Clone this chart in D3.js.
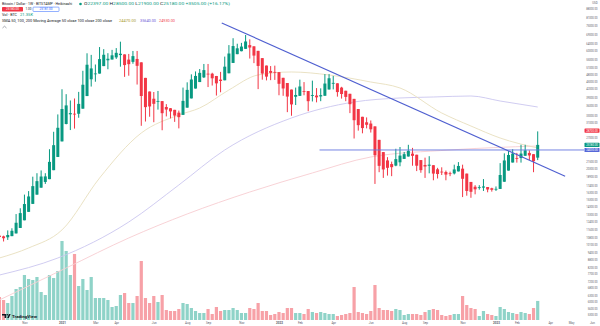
<!DOCTYPE html>
<html><head><meta charset="utf-8">
<script src="https://cdn.jsdelivr.net/npm/d3@7/dist/d3.min.js"></script>
<style>
html,body{margin:0;padding:0;background:#fff;}
svg{display:block;font-family:Roboto,"Liberation Sans",Arial,sans-serif;}
</style>
</head><body>
<svg id="c" width="600" height="326"></svg>
<script>
// ---------- DATA (weekly Heikin-Ashi candles, BTC/USD) ----------
const firstWeek = "2020-09-21";
const lastWeek  = "2023-03-13";
const haOpen = [10950,10881,10788,10902,11176,11750,12608,13621,14655,15951,17003,17920,18388,19967,22541,25999,30498,33334,33518,33500,
35100,39410,45968,48374,48428,51870,54712,55097,56181,57384,57744,55053,53926,55388,53694,46560,41080,38452,37576,37625,
35650,35237,34731,33840,33157,35428,38564,42219,44810,46780,48390,48382,47378,45826,45538,48569,53397,57873,59474,60762,
62893,62196,59660,55805,52127,49613,49181,49078,46589,44419,41822,39161,39480,41270,41263,39431,39590,39270,39510,41855,
44127,44301,42588,41369,40234,38404,34990,32582,30978,30626,29838,26369,23572,21836,21118,20821,21460,22142,22633,23241,
23008,21904,20940,20795,20898,20124,19700,19637,19406,19378,19739,20244,19347,17923,17149,16950,17012,17106,16915,16795,
16810,17955,19890,21420,22335,22318,22784,23389,23120,22397];
const haHigh = [11180,10950,11490,11720,13350,14080,15960,16480,18810,19420,19920,19420,24200,28400,33300,41950,40100,37850,38540,40950,
49700,58350,57500,52640,61780,60600,58400,60200,61200,64900,57744,58000,59600,59600,53694,46560,41080,40900,41300,37625,
36600,35300,34731,34500,42600,44700,48100,49400,50500,52900,52900,48800,47400,49200,56600,62900,67000,63700,64200,69000,
66300,62196,59660,55805,52127,51900,52100,49078,46589,44419,41822,42600,45800,44800,41263,45400,42400,42300,48200,48200,
47400,44301,42900,41369,40234,38404,34990,32582,32400,31500,29838,26369,23572,22500,21600,24300,24700,23600,25200,24500,
23008,21904,22400,22700,20898,20400,20500,19900,19700,21000,21500,21000,19347,17923,17400,17400,18400,17106,17000,17200,
21300,23300,23800,24200,23400,25200,25200,23950,23120,28500];
const haLow = [10370,10380,10530,10902,11176,11750,12608,13621,14655,15951,17003,17600,18388,19967,22541,25999,30400,28850,29240,32300,
35100,39410,43000,44950,48428,51870,50400,55097,55400,51600,47000,47500,53000,43800,30000,31200,32600,31000,34800,28800,
32700,32100,31100,29300,33157,35428,38564,42219,44810,46500,42800,43400,39600,40800,45538,48569,53397,57873,59400,60762,
55600,53300,42000,45800,45500,45600,45700,39700,39500,34000,32900,36300,39480,39700,34300,37500,37200,37600,39510,41855,
41900,39200,38500,37600,33700,26700,28700,28000,29300,28200,17600,19600,18600,19000,18900,20700,20700,22142,22633,20800,
19800,19500,18600,19400,18200,18500,19100,18200,18900,19200,19739,15600,15800,15500,16000,16700,16500,16300,16400,16500,
16810,17955,19890,21420,21400,21400,22784,21900,19600,21900];
const haClose = [10812,10695,11017,11450,12325,13467,14635,15690,17247,18055,18837,18857,21547,25115,29457,34997,36170,33702,33400,36677,
43720,52527,50780,48482,55312,57555,55482,57265,58587,58105,52362,52800,56850,52000,39425,35600,35825,36700,37675,33675,
34825,34225,32950,32475,37700,41700,45875,47400,48750,50000,48375,46375,44275,45250,51600,58225,62350,61075,62050,65025,
61500,57125,51950,48450,47100,48750,48975,44100,42250,39225,36500,39800,43025,41250,37600,39750,38950,39750,44200,46400,
44475,40875,40150,39100,36575,31575,30175,29375,30275,29050,22900,20775,20100,20400,20525,22100,22825,23125,23850,22775,
20800,19975,20650,21000,19350,19275,19575,19175,19350,20100,20750,18450,16500,16375,16750,17075,17200,16725,16675,16825,
19100,21825,22950,23250,22300,23250,23950,22850,21675,25180];
const volumeBTC = [25760,22400,19040,26880,34720,36960,50400,45920,44800,48160,31360,28000,50400,47040,54880,88480,77280,50400,73920,38080,
45920,33600,48160,24640,24640,24640,22400,14560,15680,28000,30240,19040,19040,26880,66080,24640,19040,26880,20160,28000,
11200,10080,10080,12320,19040,17920,13440,10080,7840,7840,12320,6720,14560,10080,11200,11200,13440,11200,7840,7840,
13440,12320,19040,10080,10080,5600,6720,8960,7840,13440,13440,7840,7840,6720,12320,8960,7840,8960,7840,6720,
6720,4480,5600,6720,7840,36960,8960,7840,6720,10080,39200,13440,11200,11200,10080,12320,11200,5600,6720,6720,
6720,5600,8960,11200,12320,11200,5600,4480,5600,6720,6720,26880,16800,13440,12320,4480,10080,6720,5600,4480,
14560,12320,8960,7840,6720,8960,7840,6720,13440,21350];

// moving averages read at sample weeks (index of week)
const ma50Weeks  = [0,7,15,24,34,43,48,55,62,70,79,89,96,106,113,120,129];
const ma50       = [8920,9780,11540,18580,28080,33130,35310,41670,47820,49150,47820,44830,42440,33740,29940,26820,24470];
const ma100Weeks = [0,14,31,43,54,70,85,96,104,113,120,129];
const ma100      = [7630,8920,12410,17430,24030,32230,37320,38720,39070,39430,37660,35640];
const ma200Weeks = [0,16,31,45,60,75,89,108,129];
const ma200      = [6070,8140,10720,13360,16340,19460,22530,24030,24930];

// drawings
const trendDates  = ["2021-09-29","2023-04-28"];
const trendPrices = [77100, 18900];
const hLineStart  = "2022-03-12";
const hLinePrice  = 24030;

// axes
const priceTicks = [88000,81000,75000,69000,64000,60000,55000,51000,48000,45000,42000,39000,36000,33000,31000,27000,
21500,20300,18900,17400,16300,15300,14300,13300,12400,11600,10800,10100,9400,8800,8200,7700,7200,6800,6300,6000,5600,5300];
const timeTickDates  = ["2020-11-02","2021-01-04","2021-03-01","2021-04-05","2021-06-07","2021-08-02","2021-09-06","2021-11-01",
"2022-01-03","2022-02-07","2022-04-04","2022-06-06","2022-08-01","2022-09-05","2022-11-07","2023-01-02","2023-02-06",
"2023-04-03","2023-05-08","2023-06-12"];
const timeTickLabels = ["Nov","2021","Mar","Apr","Jun","Aug","Sep","Nov","2022","Feb","Apr","Jun","Aug","Sep","Nov","2023","Feb","Apr","May","Jun"];

// price tags (right scale)
const tagRealPrice = 28700;
const lastVolText = "21.35K";

// ---------- CHART ----------
const UP = "#089981", DOWN = "#f23645";
const VUP = "#8fd3c8", VDOWN = "#f7a1a7";
const plotR = 584;
const svg = d3.select("#c");
const dates = haOpen.map((_, i) => d3.utcDay.offset(new Date(Date.UTC(2020,8,21)), 7*i));

const x = d3.scaleUtc().domain([new Date(firstWeek+"T00:00:00Z"), new Date(lastWeek+"T00:00:00Z")]).range([-0.6, 537.7]);
const y = d3.scaleLog().domain([10000, 100000]).range([245.55, -5.45]);
const yv = d3.scaleLinear().domain([0, 100000]).range([320, 230.7]);
const toD = s => new Date(s+"T00:00:00Z");

svg.append("rect").attr("width",600).attr("height",326).attr("fill","#fff");
svg.append("defs").append("clipPath").attr("id","clip").append("rect")
  .attr("x",0).attr("y",0).attr("width",plotR).attr("height",321);
const plot = svg.append("g").attr("clip-path","url(#clip)");

const idx = d3.range(haOpen.length);
const isUp = i => haClose[i] >= haOpen[i];

// volume
plot.append("g").selectAll("rect").data(idx).join("rect")
  .attr("x", i => x(dates[i]) - 1.6).attr("width", 3.2)
  .attr("y", i => yv(volumeBTC[i])).attr("height", i => yv(0) - yv(volumeBTC[i]))
  .attr("fill", i => isUp(i) ? VUP : VDOWN);

// moving averages
function maLine(weeks, vals, color) {
  const line = d3.line().x(d => x(dates[d[0]])).y(d => y(d[1])).curve(d3.curveMonotoneX);
  plot.append("path").datum(weeks.map((w,k)=>[w, vals[k]]))
    .attr("d", line).attr("fill","none").attr("stroke", color).attr("stroke-width", 0.9);
}
maLine(ma200Weeks, ma200, "#f7cdd1");
maLine(ma100Weeks, ma100, "#cbc6ef");
maLine(ma50Weeks, ma50, "#e8dfbd");

// candles
const cg = plot.append("g");
cg.selectAll("rect.w").data(idx).join("rect").attr("class","w")
  .attr("x", i => x(dates[i]) - 0.5).attr("width", 1)
  .attr("y", i => y(haHigh[i])).attr("height", i => Math.max(0.5, y(haLow[i]) - y(haHigh[i])))
  .attr("fill", i => isUp(i) ? UP : DOWN);
cg.selectAll("rect.b").data(idx).join("rect").attr("class","b")
  .attr("x", i => x(dates[i]) - 1.5).attr("width", 3)
  .attr("y", i => y(Math.max(haOpen[i], haClose[i])))
  .attr("height", i => Math.max(0.8, Math.abs(y(haOpen[i]) - y(haClose[i]))))
  .attr("fill", i => isUp(i) ? UP : DOWN);

// drawings
plot.append("line")
  .attr("x1", x(toD(hLineStart))).attr("x2", plotR)
  .attr("y1", y(hLinePrice)).attr("y2", y(hLinePrice))
  .attr("stroke", "#6676e0").attr("stroke-width", 0.9);
plot.append("line")
  .attr("x1", x(toD(trendDates[0]))).attr("y1", y(trendPrices[0]))
  .attr("x2", x(toD(trendDates[1]))).attr("y2", y(trendPrices[1]))
  .attr("stroke", "#4f5fd0").attr("stroke-width", 1.1);

// price axis
const pa = svg.append("g").attr("transform", `translate(${plotR},0)`)
  .call(d3.axisRight(y).tickValues(priceTicks).tickSize(0).tickFormat(d => d.toFixed(2)));
pa.select(".domain").remove();
pa.selectAll("text").attr("x", 13.5).attr("text-anchor","end")
  .attr("font-size", 2.7).attr("fill","#5d606b").attr("font-family","Roboto, Liberation Sans, sans-serif");
svg.append("text").attr("x",597.5).attr("y",3.6).attr("text-anchor","end")
  .attr("font-size",2.8).attr("fill","#5d606b").text("USD");

// time axis
const ta = svg.append("g").attr("transform","translate(0,321)")
  .call(d3.axisBottom(x).tickValues(timeTickDates.map(toD)).tickSize(0)
    .tickFormat((d,i) => timeTickLabels[i]));
ta.select(".domain").remove();
ta.selectAll("text").attr("y", 3.4).attr("dy", 0).attr("font-size", 3)
  .attr("fill","#5d606b").attr("font-family","Roboto, Liberation Sans, sans-serif")
  .attr("font-weight", (d,i) => /^\d{4}$/.test(timeTickLabels[i]) ? 700 : 400);

// price tags
function tag(price, fill) {
  const yy = y(price);
  svg.append("rect").attr("x", plotR + 0.5).attr("y", yy - 2.1).attr("width", 15).attr("height", 4.2)
    .attr("rx", 0.6).attr("fill", fill);
  svg.append("text").attr("x", plotR + 8).attr("y", yy + 1).attr("text-anchor","middle")
    .attr("font-size", 2.8).attr("fill", "#fff").text(price.toFixed(2));
}
tag(tagRealPrice, DOWN);
tag(haClose[haClose.length-1], UP);
tag(hLinePrice, "#5567d8");

// ---------- LEGEND ----------
const leg = svg.append("g").attr("font-size", 4.2);
leg.append("text").attr("x",2).attr("y",5.4).attr("fill","#131722")
  .attr("textLength",70).attr("lengthAdjust","spacingAndGlyphs")
  .text("Bitcoin / Dollar · 1W · BITSTAMP · Heikinashi");
leg.append("circle").attr("cx",80.5).attr("cy",4).attr("r",1.3).attr("fill",UP);
const last = haOpen.length - 1;
const chg = haClose[last] - haClose[last-1];
const ohlc = leg.append("text").attr("x",84).attr("y",5.4)
  .attr("textLength",146).attr("lengthAdjust","spacingAndGlyphs");
[["O",haOpen[last]],["H",haHigh[last]],["L",haLow[last]],["C",haClose[last]]].forEach(([k,v],j)=>{
  ohlc.append("tspan").attr("fill","#131722").text((j?" ":"")+k);
  ohlc.append("tspan").attr("fill",UP).text(v.toFixed(2));
});
ohlc.append("tspan").attr("fill",UP)
  .text(` +${chg.toFixed(2)} (+${(chg/haClose[last-1]*100).toFixed(2)}%)`);

// buy / sell boxes
leg.append("rect").attr("x",2).attr("y",7.1).attr("width",21).attr("height",4.4).attr("rx",0.7).attr("fill",DOWN);
leg.append("text").attr("x",12.5).attr("y",10.4).attr("text-anchor","middle").attr("font-size",3.1)
  .attr("fill","#fff").text(haClose[last].toFixed(2));
leg.append("text").attr("x",28.5).attr("y",10.4).attr("text-anchor","middle").attr("font-size",3)
  .attr("fill","#131722").text("1.00");
leg.append("rect").attr("x",33).attr("y",7.1).attr("width",26).attr("height",4.4).attr("rx",0.7)
  .attr("fill","#fff").attr("stroke","#2962ff").attr("stroke-width",0.5);
leg.append("text").attr("x",46).attr("y",10.4).attr("text-anchor","middle").attr("font-size",3.1)
  .attr("fill","#2962ff").text((haClose[last]+1).toFixed(2));

// volume legend
leg.append("text").attr("x",2).attr("y",15.6).attr("fill","#131722")
  .attr("textLength",15).attr("lengthAdjust","spacingAndGlyphs").text("Vol · BTC");
leg.append("text").attr("x",20).attr("y",15.6).attr("fill",UP)
  .attr("textLength",13).attr("lengthAdjust","spacingAndGlyphs").text(lastVolText);

// MA legend
leg.append("text").attr("x",2).attr("y",22.3).attr("fill","#131722")
  .attr("textLength",110).attr("lengthAdjust","spacingAndGlyphs")
  .text("SMA 50, 100, 200 Moving Average 50 close 100 close 200 close");
leg.append("text").attr("x",119).attr("y",22.3).attr("fill","#a99a2e")
  .attr("textLength",17).attr("lengthAdjust","spacingAndGlyphs").text(ma50[ma50.length-1].toFixed(2));
leg.append("text").attr("x",140).attr("y",22.3).attr("fill","#6b55d6")
  .attr("textLength",16).attr("lengthAdjust","spacingAndGlyphs").text(ma100[ma100.length-1].toFixed(2));
leg.append("text").attr("x",159).attr("y",22.3).attr("fill","#f0404f")
  .attr("textLength",16).attr("lengthAdjust","spacingAndGlyphs").text(ma200[ma200.length-1].toFixed(2));
leg.append("path").attr("d","M2.5,28 L4.5,26.2 L6.5,28").attr("fill","none")
  .attr("stroke","#6a6d78").attr("stroke-width",0.6);

// TradingView logo
const lg = svg.append("g").attr("transform","translate(2,314)");
lg.append("path").attr("d","M0,0 H4.2 V4 H2.6 V1.4 H0 Z").attr("fill","#131722");
lg.append("circle").attr("cx",5.3).attr("cy",0.8).attr("r",0.8).attr("fill","#131722");
lg.append("path").attr("d","M5.2,4 L6.9,0 H8.6 L6.9,4 Z").attr("fill","#131722");
lg.append("text").attr("x",10).attr("y",3.7).attr("font-size",4).attr("font-weight",700)
  .attr("fill","#131722").attr("textLength",25).attr("lengthAdjust","spacingAndGlyphs").text("TradingView");
</script>
</body></html>
